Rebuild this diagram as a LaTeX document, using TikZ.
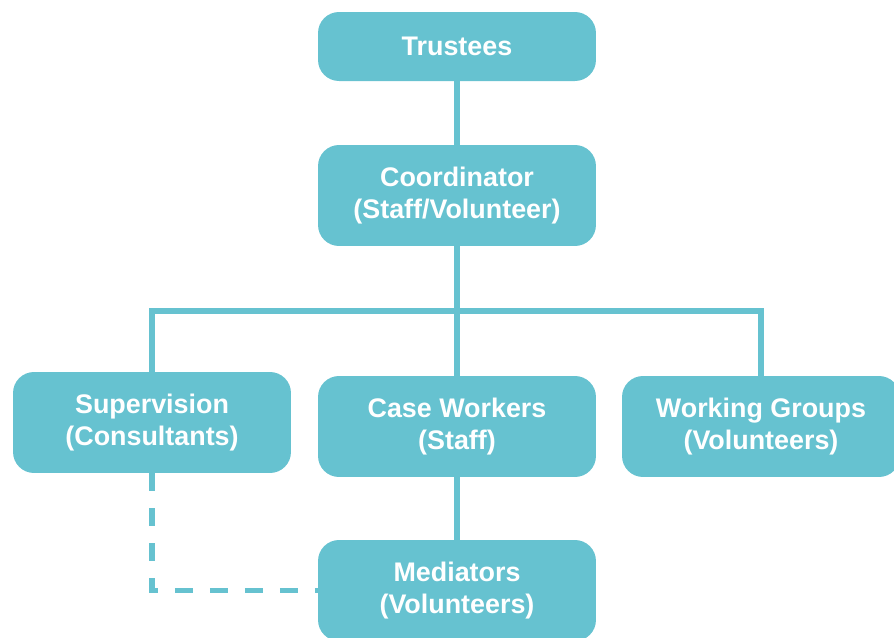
\documentclass[tikz,border=0pt]{standalone}
\usepackage{fontspec}
\setmainfont{Liberation Sans}
\usetikzlibrary{positioning}
\definecolor{teal}{RGB}{102,194,208}
\tikzset{
    unit/.style={draw=none, fill=teal, rounded corners=0.42cm, minimum width=5.56cm,
        minimum height=2.02cm, align=center, text=white,
        font=\fontsize{15.3}{18.2}\selectfont\bfseries},
    link/.style={draw=teal, line width=3.4pt},
    loose/.style={draw=teal, line width=3.4pt, dash pattern=on 0.36cm off 0.34cm}
}

\begin{document}
\begin{tikzpicture}[x=0.02cm, y=-0.02cm]
            \useasboundingbox (0,0) rectangle (894,637);
            \clip (0,0) rectangle (894,637);
            % boxes
            \node [unit, minimum height=1.38cm] (trustees) at (457,46.5) {Trustees};
            \node [unit] (coord) at (457,195.5) {Coordinator\\(Staff/Volunteer)};
            \node [unit] (superv) at (152,422.5) {Supervision\\(Consultants)};
            \node [unit] (cases) at (457,426.5) {Case Workers\\(Staff)};
            \node [unit] (groups) at (761,426.5) {Working Groups\\(Volunteers)};
            \node [unit] (mediators) at (457,590.5) {Mediators\\(Volunteers)};
            \coordinate (bar) at (457,311);
            % lines
            \draw [link] (trustees) -- (coord);
            \draw [link] (coord) -- (cases);
            \draw [link] (superv.north) |- (bar) -| (groups.north);
            \draw [link] (cases) -- (mediators);
            \draw [loose] (superv.south) |- (mediators.west);
        \end{tikzpicture}
\end{document}
